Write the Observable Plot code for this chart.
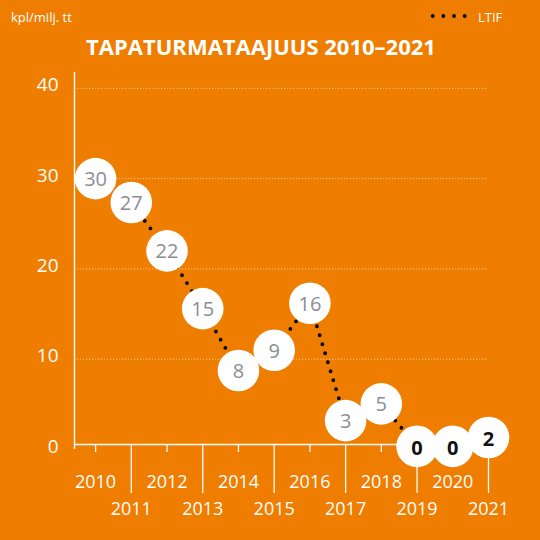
<!DOCTYPE html>
<html><head><meta charset="utf-8">
<script src="https://cdn.jsdelivr.net/npm/d3@7"></script>
<script src="https://cdn.jsdelivr.net/npm/@observablehq/plot@0.6"></script>
<style>
body{margin:0;background:#EE7D00;}
#wrap{position:relative;width:540px;height:540px;background:#EE7D00;overflow:hidden;font-family:"Open Sans",sans-serif;color:#fff;}
#unit{position:absolute;left:11px;top:11px;font-size:13px;line-height:1;white-space:nowrap;}
#title{position:absolute;left:0;width:522px;top:35px;text-align:center;font-weight:700;font-size:22px;line-height:1;white-space:nowrap;}
#legsvg{position:absolute;left:428px;top:11px;}
#legtext{position:absolute;left:478px;top:11px;font-size:13px;line-height:1;}
#chart{position:absolute;left:0;top:70px;}
</style></head>
<body><div id="wrap">
<div id="unit">kpl/milj. tt</div>
<div id="title">TAPATURMATAAJUUS 2010–2021</div>
<svg id="legsvg" width="42" height="10"><line x1="4.7" x2="37.2" y1="5" y2="5" stroke="#000" stroke-width="3.8" stroke-dasharray="0 10.67" stroke-linecap="round"/></svg>
<div id="legtext">LTIF</div>
<div id="chart"></div>
</div>
<script>
const years = [2010,2011,2012,2013,2014,2015,2016,2017,2018,2019,2020,2021];
const ltif = [30,27,22,15,8,9,16,3,5,0,0,2];
// circle heights as they appear on the picture
const circleLevel = [30,27.35,22,15.6,8.75,11,16.2,3.2,5.05,0.35,0.35,1.33];
const yTicks = [0,10,20,30,40];
const evenYears = [2010,2012,2014,2016,2018,2020];
const oddYears = [2011,2013,2015,2017,2019,2021];

const data = years.map((year,i)=>({year, value: ltif[i], level: circleLevel[i]}));
const xMin = 2009.41, yTop = 41.2;

const chart = Plot.plot({
  width:540, height:470,
  marginLeft:74, marginRight:52, marginTop:7, marginBottom:91,
  style:{background:"transparent", color:"white", fontFamily:"Open Sans", overflow:"visible"},
  x:{domain:[xMin,2021], axis:null},
  y:{domain:[0,yTop], axis:null},
  marks:[
    Plot.gridY(yTicks.filter(d=>d>0), {stroke:"white", strokeOpacity:0.6, strokeDasharray:"1.2,1.8"}),
    Plot.axisY(yTicks, {tickSize:0, tickPadding:16, fontSize:19, dy:-3, label:null}),
    Plot.ruleX([xMin], {y1:0, y2:yTop, insetBottom:5, stroke:"white", strokeWidth:1.4}),
    Plot.ruleY([0], {dy:-5, stroke:"white", strokeWidth:1.4}),
    Plot.axisX(evenYears, {tickSize:8, tickPadding:23, dy:-5, fontSize:18, label:null, strokeWidth:1.3, tickFormat:d=>String(d)}),
    Plot.axisX(oddYears, {tickSize:49, tickPadding:8.5, dy:-5, fontSize:18, label:null, strokeWidth:1.3, tickFormat:d=>String(d)}),
    Plot.line(data, {x:"year", y:"level", stroke:"black", strokeWidth:3.8, strokeDasharray:"0 9.4", strokeLinecap:"round"}),
    Plot.dot(data, {x:"year", y:"level", r:20.8, fill:"white"}),
    Plot.text(data.filter(d=>d.year<2019), {x:"year", y:"level", text:d=>String(d.value), fill:"#8A8E93", fontSize:20, dy:1}),
    Plot.text(data.filter(d=>d.year>=2019), {x:"year", y:"level", text:d=>String(d.value), fill:"#111", fontWeight:"bold", fontSize:20, dy:2})
  ]
});
document.getElementById("chart").appendChild(chart);
</script>
</body></html>
